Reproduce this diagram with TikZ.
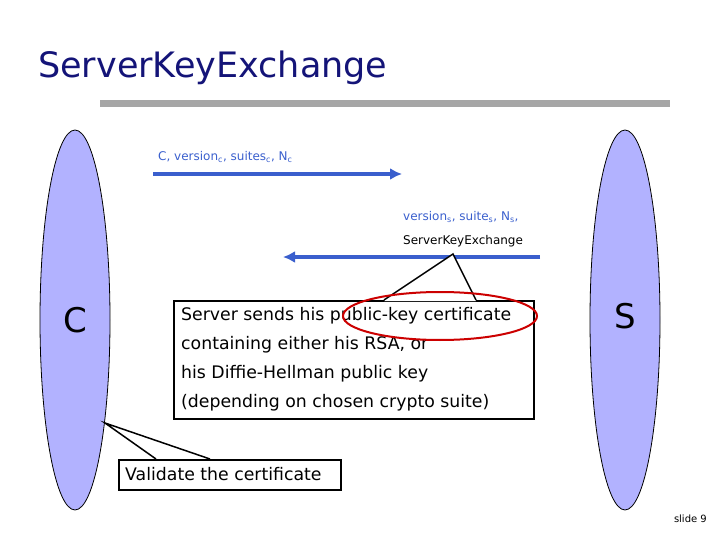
\documentclass[tikz,border=0pt]{standalone}
\usepackage{fontspec}
\setmainfont{DejaVu Sans}
\usetikzlibrary{arrows.meta}
\begin{document}
\begin{tikzpicture}[x=1pt,y=-1pt,
  party/.style={draw=black,fill=blue!30!white,line width=0.8pt},
  msg/.style={draw={rgb,255:red,58;green,95;blue,205},line width=3.5pt,-{Latex[length=12pt,width=12pt]}},
  lbl/.style={font=\fontsize{12}{14}\selectfont,text={rgb,255:red,58;green,95;blue,205},anchor=west,inner sep=0pt},
  note/.style={draw=black,line width=1.5pt,fill=white}]
\useasboundingbox (0,0) rectangle (720,540);
\node[anchor=base west,inner sep=0pt,font=\fontsize{35}{40}\selectfont,text={rgb,255:red,20;green,20;blue,120}] (title) at (38,78) {ServerKeyExchange};
\fill[gray!70] (100,100) rectangle (670,107);
\draw[party] (75,320) ellipse (35 and 190);
\draw[party] (625,320) ellipse (35 and 190);
\node[font=\fontsize{34}{36}\selectfont] (C) at (75,320) {C};
\node[font=\fontsize{34}{36}\selectfont] (S) at (625,316) {S};
\coordinate (a1) at (153,174); \coordinate (b1) at (402,174);
\draw[msg] (a1) -- (b1);
\node[lbl] (l1) at (158,157) {C, version\textsubscript{c}, suites\textsubscript{c}, N\textsubscript{c}};
\coordinate (a2) at (540,257); \coordinate (b2) at (283,257);
\draw[msg] (a2) -- (b2);
\node[lbl] (l2) at (403,217) {version\textsubscript{s}, suite\textsubscript{s}, N\textsubscript{s},};
\node[lbl,text=black] (l3) at (403,241) {ServerKeyExchange};
\node[note,minimum width=360pt,minimum height=118pt,anchor=north west] (box) at (173,300) {};
\node[anchor=north west,inner sep=0pt,align=left,font=\fontsize{17.3}{29}\selectfont] (txt) at (181,307) {Server sends his public-key certificate\\containing either his RSA, or\\his Diffie-Hellman public key\\(depending on chosen crypto suite)};
\coordinate (tip) at (453,254);
\fill[white] (384,301) -- (tip) -- (476,301) -- cycle;
\draw[line width=1.5pt] (384,300) -- (tip) -- (476,300);
\draw[red!80!black,line width=2pt] (440,316) ellipse (97 and 24);
\node[note,anchor=north west,minimum height=30pt,minimum width=222pt] (val) at (118,459) {};
\node[anchor=west,inner sep=0pt,font=\fontsize{17.3}{20}\selectfont] (valt) at (125,474) {Validate the certificate};
\coordinate (tip2) at (105,423);
\fill[white] (156,458) -- (tip2) -- (210,458) -- cycle;
\draw[line width=1.5pt] (156,459) -- (tip2) -- (210,459);
\node[anchor=base east,inner sep=0pt,font=\fontsize{10}{11}\selectfont] (sl) at (707,522) {slide 9};
\end{tikzpicture}
\end{document}
